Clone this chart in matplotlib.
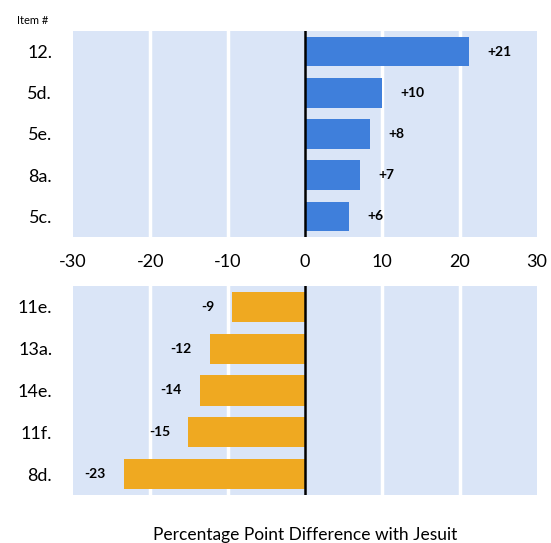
import matplotlib.pyplot as plt

plt.rcParams['font.family'] = ['Lato', 'DejaVu Sans']

# top panel (positive differences)
top_items = ['12.', '5d.', '5e.', '8a.', '5c.']
top_vals = [21.2, 10.0, 8.4, 7.1, 5.7]
top_labels = ['+21', '+10', '+8', '+7', '+6']

# bottom panel (negative differences)
bot_items = ['11e.', '13a.', '14e.', '11f.', '8d.']
bot_vals = [-9.4, -12.3, -13.6, -15.1, -23.4]
bot_labels = ['-9', '-12', '-14', '-15', '-23']

xticks = [-30, -20, -10, 0, 10, 20, 30]
grid_x = [-20, -10, 10, 20]

bg = '#dae5f7'
blue = '#3f7fdb'
orange = '#efa921'

fig = plt.figure(figsize=(5.51, 5.43), dpi=100)
ax1 = fig.add_axes([73 / 551, 1 - 237 / 543, 464 / 551, 206 / 543])
ax2 = fig.add_axes([73 / 551, 1 - 495 / 543, 464 / 551, 209 / 543])

def panel(ax, items, vals, labels, color, show_x):
    ax.set_facecolor(bg)
    y = list(range(len(items)))
    ax.barh(y, vals, height=0.72, color=color, zorder=3)
    for gx in grid_x:
        ax.axvline(gx, color='white', lw=2.5, zorder=2)
    ax.axvline(0, color='black', lw=1.8, zorder=4)
    for yi, v, lab in zip(y, vals, labels):
        if v > 0:
            ax.annotate(lab, (v, yi), xytext=(13, 0), textcoords='offset points',
                        ha='left', va='center', fontsize=10, fontweight='bold')
        else:
            ax.annotate(lab, (v, yi), xytext=(-13, 0), textcoords='offset points',
                        ha='right', va='center', fontsize=10, fontweight='bold')
    ax.set_xlim(-30, 30)
    ax.set_ylim(len(items) - 0.5, -0.5)
    ax.set_yticks(y)
    ax.set_yticklabels(items, fontsize=13)
    ax.set_xticks(xticks)
    if show_x:
        ax.set_xticklabels([str(t) for t in xticks], fontsize=13)
    else:
        ax.set_xticklabels([])
    ax.tick_params(length=0, pad=15)
    ax.tick_params(axis='x', pad=12)
    for s in ax.spines.values():
        s.set_visible(False)

panel(ax1, top_items, top_vals, top_labels, blue, True)
panel(ax2, bot_items, bot_vals, bot_labels, orange, False)

fig.text(33 / 551, 1 - 20 / 543, 'Item #', ha='center', va='center', fontsize=8)
fig.text(305 / 551, 1 - 535 / 543, 'Percentage Point Difference with Jesuit',
         ha='center', va='center', fontsize=12.5)

fig.savefig('out.png', dpi=100)
